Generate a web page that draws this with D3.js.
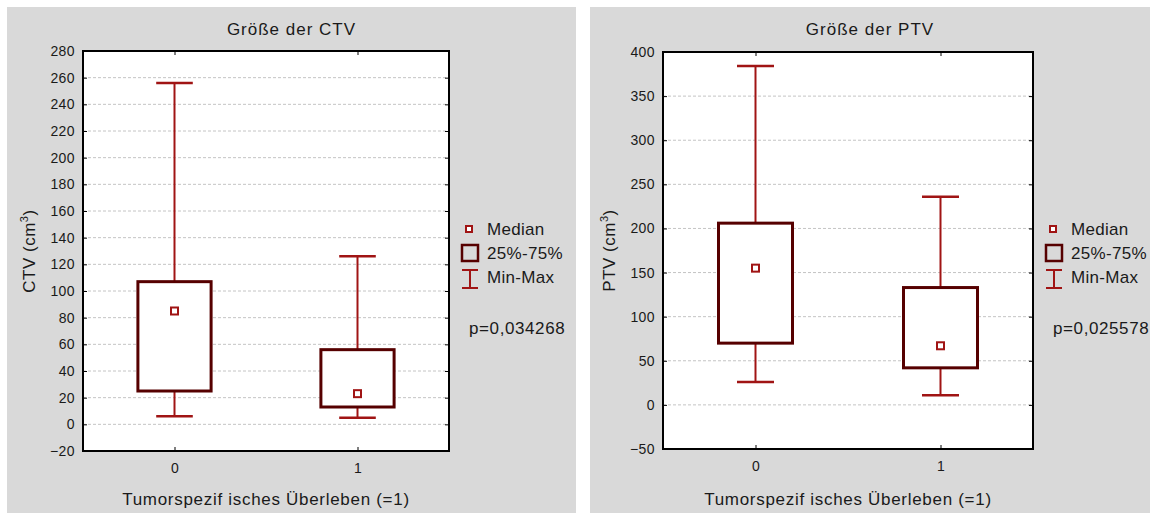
<!DOCTYPE html>
<html>
<head>
<meta charset="utf-8">
<script src="https://cdn.jsdelivr.net/npm/d3@7"></script>
<style>
  body { margin: 0; background: #fff; }
  svg { display: block; font-family: "Liberation Sans", Arial, sans-serif; }
</style>
</head>
<body>
<svg id="chart" width="1150" height="513"></svg>
<script>
// data
const categories = ["0", "1"];

const ctvMin = [6, 5];
const ctvQ1 = [25, 13];
const ctvMedian = [85, 23];
const ctvQ3 = [107, 56];
const ctvMax = [256, 126];
const ctvTicks = [-20, 0, 20, 40, 60, 80, 100, 120, 140, 160, 180, 200, 220, 240, 260, 280];

const ptvMin = [26, 11];
const ptvQ1 = [70, 42];
const ptvMedian = [155, 67];
const ptvQ3 = [206, 133];
const ptvMax = [384, 236];
const ptvTicks = [-50, 0, 50, 100, 150, 200, 250, 300, 350, 400];

const legendLabels = ["Median", "25%-75%", "Min-Max"];

const boxColor = "#560000";
const whiskerColor = "#a01414";
const textColor = "#1a1a1a";

const svg = d3.select("#chart");

function drawPanel(opt) {
  const g = svg.append("g");

  // panel background
  g.append("rect")
    .attr("x", opt.px).attr("y", 7)
    .attr("width", opt.pw).attr("height", 506)
    .attr("fill", "#d9d9d9");

  const x = d3.scalePoint().domain(categories).range([opt.left, opt.right]).padding(0.5);
  const y = d3.scaleLinear().domain([opt.ticks[0], opt.ticks[opt.ticks.length - 1]]).range([opt.bottom, opt.top]);
  const plotW = opt.right - opt.left;
  const boxW = plotW * 0.2;
  const capW = boxW / 2;

  // plot area
  g.append("rect")
    .attr("x", opt.left).attr("y", opt.top)
    .attr("width", plotW).attr("height", opt.bottom - opt.top)
    .attr("fill", "#fff");

  // grid
  g.append("g").selectAll("line")
    .data(opt.ticks)
    .join("line")
    .attr("x1", opt.left).attr("x2", opt.right)
    .attr("y1", d => y(d)).attr("y2", d => y(d))
    .attr("stroke", "#c4c4c4")
    .attr("stroke-dasharray", "3,2");

  // y axis
  const yAxis = g.append("g")
    .attr("transform", `translate(${opt.left},0)`)
    .call(d3.axisLeft(y).tickValues(opt.ticks).tickSize(-4).tickPadding(8));
  yAxis.select(".domain").remove();
  yAxis.selectAll("line").attr("stroke", "#000");
  yAxis.selectAll("text").attr("font-size", 14).attr("fill", textColor)
    .attr("letter-spacing", 0.4)
    .attr("font-family", "Liberation Sans, Arial, sans-serif");

  // right ticks
  g.append("g")
    .attr("transform", `translate(${opt.right},0)`)
    .call(d3.axisRight(y).tickValues(opt.ticks).tickSize(-4).tickFormat(""))
    .call(a => a.select(".domain").remove());

  // x axis
  const xAxis = g.append("g")
    .attr("transform", `translate(0,${opt.bottom})`)
    .call(d3.axisBottom(x).tickSize(-4).tickPadding(12));
  xAxis.select(".domain").remove();
  xAxis.selectAll("text").attr("font-size", 14).attr("fill", textColor)
    .attr("font-family", "Liberation Sans, Arial, sans-serif");

  g.append("g")
    .attr("transform", `translate(0,${opt.top})`)
    .call(d3.axisTop(x).tickSize(-4).tickFormat(""))
    .call(a => a.select(".domain").remove());

  // frame
  g.append("rect")
    .attr("x", opt.left).attr("y", opt.top)
    .attr("width", plotW).attr("height", opt.bottom - opt.top)
    .attr("fill", "none").attr("stroke", "#000").attr("stroke-width", 2);

  const rows = categories.map((c, i) => ({
    c, min: opt.min[i], q1: opt.q1[i], med: opt.med[i], q3: opt.q3[i], max: opt.max[i]
  }));

  const boxes = g.append("g").selectAll("g").data(rows).join("g");

  // whiskers
  boxes.append("line")
    .attr("x1", d => x(d.c)).attr("x2", d => x(d.c))
    .attr("y1", d => y(d.max)).attr("y2", d => y(d.q3))
    .attr("stroke", whiskerColor).attr("stroke-width", 2);
  boxes.append("line")
    .attr("x1", d => x(d.c)).attr("x2", d => x(d.c))
    .attr("y1", d => y(d.q1)).attr("y2", d => y(d.min))
    .attr("stroke", whiskerColor).attr("stroke-width", 2);
  boxes.append("line")
    .attr("x1", d => x(d.c) - capW / 2).attr("x2", d => x(d.c) + capW / 2)
    .attr("y1", d => y(d.max)).attr("y2", d => y(d.max))
    .attr("stroke", whiskerColor).attr("stroke-width", 2.5);
  boxes.append("line")
    .attr("x1", d => x(d.c) - capW / 2).attr("x2", d => x(d.c) + capW / 2)
    .attr("y1", d => y(d.min)).attr("y2", d => y(d.min))
    .attr("stroke", whiskerColor).attr("stroke-width", 2.5);

  // box
  boxes.append("rect")
    .attr("x", d => x(d.c) - boxW / 2)
    .attr("y", d => y(d.q3))
    .attr("width", boxW)
    .attr("height", d => y(d.q1) - y(d.q3))
    .attr("fill", "#fff")
    .attr("stroke", boxColor).attr("stroke-width", 3);

  // median
  boxes.append("rect")
    .attr("x", d => x(d.c) - 3.5).attr("y", d => y(d.med) - 3.5)
    .attr("width", 7).attr("height", 7)
    .attr("fill", "#fff")
    .attr("stroke", whiskerColor).attr("stroke-width", 2);

  // title
  g.append("text")
    .attr("x", opt.px + opt.pw / 2).attr("y", 35)
    .attr("text-anchor", "middle")
    .attr("font-size", 17).attr("letter-spacing", 1)
    .attr("fill", textColor)
    .text(opt.title);

  // x title
  g.append("text")
    .attr("x", (opt.left + opt.right) / 2).attr("y", 505)
    .attr("text-anchor", "middle")
    .attr("font-size", 17).attr("letter-spacing", 0.7)
    .attr("fill", textColor)
    .text("Tumorspezif isches Überleben (=1)");

  // y title
  const yt = g.append("text")
    .attr("transform", `translate(${opt.left - 48},${(opt.top + opt.bottom) / 2}) rotate(-90)`)
    .attr("text-anchor", "middle")
    .attr("font-size", 17).attr("letter-spacing", 0.5)
    .attr("fill", textColor);
  yt.append("tspan").text(opt.yLabel + " (cm");
  yt.append("tspan").attr("font-size", 11).attr("dy", -7).text("3");
  yt.append("tspan").attr("dy", 7).text(")");

  // legend
  const lx = opt.right + 20;
  const leg = g.append("g");
  leg.append("rect")
    .attr("x", lx - 3).attr("y", 226).attr("width", 6).attr("height", 6)
    .attr("fill", "#fff").attr("stroke", whiskerColor).attr("stroke-width", 2);
  leg.append("rect")
    .attr("x", lx - 7).attr("y", 245).attr("width", 16).attr("height", 16)
    .attr("fill", "none").attr("stroke", boxColor).attr("stroke-width", 2.5);
  leg.append("line")
    .attr("x1", lx - 7).attr("x2", lx + 9).attr("y1", 270).attr("y2", 270)
    .attr("stroke", whiskerColor).attr("stroke-width", 2);
  leg.append("line")
    .attr("x1", lx - 7).attr("x2", lx + 9).attr("y1", 288).attr("y2", 288)
    .attr("stroke", whiskerColor).attr("stroke-width", 2);
  leg.append("line")
    .attr("x1", lx + 1).attr("x2", lx + 1).attr("y1", 270).attr("y2", 288)
    .attr("stroke", whiskerColor).attr("stroke-width", 2);

  leg.selectAll("text.lab")
    .data(legendLabels)
    .join("text")
    .attr("class", "lab")
    .attr("x", lx + 18)
    .attr("y", (d, i) => 235 + i * 24)
    .attr("font-size", 17).attr("letter-spacing", 0.3)
    .attr("fill", textColor)
    .text(d => d);

  leg.append("text")
    .attr("x", lx).attr("y", 334)
    .attr("font-size", 17).attr("letter-spacing", 0.6)
    .attr("fill", textColor)
    .text(opt.p);
}

drawPanel({
  px: 7, pw: 569, left: 83, right: 449, top: 51, bottom: 451,
  ticks: ctvTicks, min: ctvMin, q1: ctvQ1, med: ctvMedian, q3: ctvQ3, max: ctvMax,
  title: "Größe der CTV", yLabel: "CTV", p: "p=0,034268"
});

drawPanel({
  px: 590, pw: 560, left: 663, right: 1033, top: 52, bottom: 449,
  ticks: ptvTicks, min: ptvMin, q1: ptvQ1, med: ptvMedian, q3: ptvQ3, max: ptvMax,
  title: "Größe der PTV", yLabel: "PTV", p: "p=0,025578"
});
</script>
</body>
</html>
